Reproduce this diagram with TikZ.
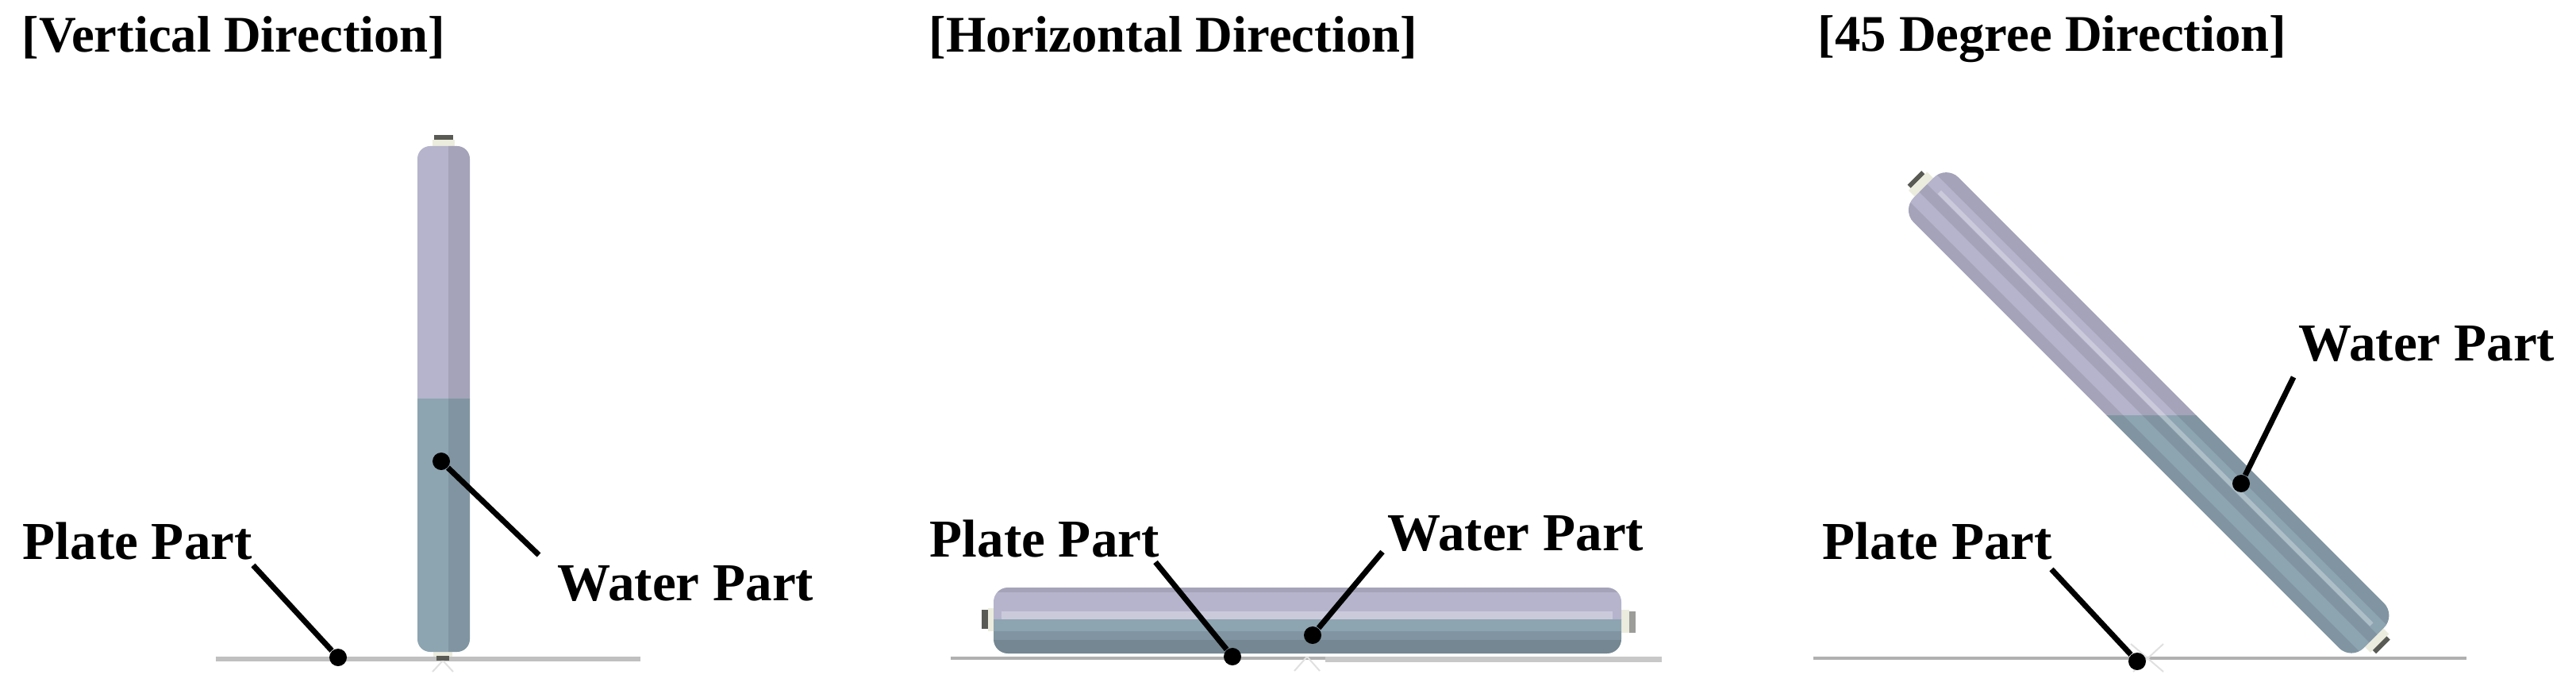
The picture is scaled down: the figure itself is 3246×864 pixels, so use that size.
\documentclass[tikz,border=0pt]{standalone}
\usepackage{fontspec}
\setmainfont{Liberation Serif}
\usepackage{tikz}
\usetikzlibrary{positioning,calc}
\definecolor{airfill}{RGB}{181,180,204}
\definecolor{waterfill}{RGB}{141,164,177}
\definecolor{platefill}{RGB}{176,176,176}
\definecolor{collarfill}{RGB}{236,236,222}
\definecolor{nubfill}{RGB}{90,90,85}

\begin{document}
\begin{tikzpicture}[
	x=0.01cm, y=-0.01cm,
	% Chu tieu de va nhan
	titlelabel/.style={anchor=base west, inner sep=0pt, font=\fontsize{18.4}{20}\selectfont\bfseries},
	partlabel/.style={anchor=base west, inner sep=0pt, font=\fontsize{19.1}{21}\selectfont\bfseries},
	% Duong chi va cham den
	leaderline/.style={draw=black, line width=0.07cm},
	leaderdot/.style={circle, fill=black, minimum size=0.22cm, inner sep=0pt},
	% Cac vung cua ong
	airpart/.style={fill=airfill},
	waterpart/.style={fill=waterfill},
	banddark/.style={fill=black, opacity=0.09},
	bandlight/.style={fill=white, opacity=0.3},
	collar/.style={fill=collarfill},
	nub/.style={fill=nubfill},
	plate/.style={draw=platefill, line width=0.045cm},
	crossmark/.style={draw=black!12, line width=0.02cm}
	]
	\useasboundingbox (0,0) rectangle (3246,864);

	% --- 1. VERTICAL ---
	\node[titlelabel] (titleV) at (27,66) {[Vertical Direction]};
	\draw[plate, draw=platefill!80, line width=0.06cm] (272,830) coordinate (plateVa) -- (807,830) coordinate (plateVb);
	\draw[crossmark] (558,832) -- (545,846) (558,832) -- (571,846);
	\fill[nub] (547,170) rectangle (571,176);
	\fill[collar] (545,176) rectangle (573,186);
	\fill[collar] (546,820) rectangle (570,827);
	\fill[nub] (550,826) rectangle (566,832);
	\begin{scope}
		\clip[rounded corners=0.16cm] (526,184) rectangle (592,821);
		\fill[airpart] (520,180) rectangle (600,503);
		\fill[waterpart] (520,502) rectangle (600,825);
		\fill[banddark] (565,180) rectangle (600,825);
	\end{scope}
	\node[partlabel] (plateV) at (28,704) {Plate Part};
	\node[partlabel] (waterV) at (702,756) {Water Part};
	\node[leaderdot] (dotPV) at (426,828) {};
	\node[leaderdot] (dotWV) at (556,581) {};
	\coordinate (startPV) at (319,712);
	\coordinate (startWV) at (679,699);
	\draw[leaderline] (startPV) -- (dotPV);
	\draw[leaderline] (startWV) -- (dotWV);

	% --- 2. HORIZONTAL ---
	\node[titlelabel] (titleH) at (1170,66) {[Horizontal Direction]};
	\draw[plate] (1198,829) coordinate (plateHa) -- (1670,829) coordinate (plateHm);
	\draw[plate, draw=platefill!70, line width=0.07cm] (plateHm) ++(0,1) -- (2094,830) coordinate (plateHb);
	\draw[crossmark] (1647,827) -- (1631,845) (1647,827) -- (1663,845);
	\fill[nub] (1237,768) rectangle (1245,792);
	\fill[collar] (1245,766) rectangle (1256,795);
	\fill[collar] (2038,768) rectangle (2053,797);
	\fill[nub, opacity=0.6] (2053,770) rectangle (2061,797);
	\begin{scope}
		\clip[rounded corners=0.18cm] (1252,740) rectangle (2043,823);
		\fill[airpart] (1240,735) rectangle (2050,781);
		\fill[waterpart] (1240,780) rectangle (2050,830);
		\fill[banddark] (1240,740) rectangle (2050,746);
		\fill[bandlight] (1262,770) rectangle (2032,780);
		\fill[banddark] (1240,795) rectangle (2050,830);
		\fill[banddark] (1240,806) rectangle (2050,830);
	\end{scope}
	\node[partlabel] (plateH) at (1171,701) {Plate Part};
	\node[partlabel] (waterH) at (1748,693) {Water Part};
	\node[leaderdot] (dotPH) at (1553,827) {};
	\node[leaderdot] (dotWH) at (1654,800) {};
	\coordinate (startPH) at (1456,708);
	\coordinate (startWH) at (1742,695);
	\draw[leaderline] (startPH) -- (dotPH);
	\draw[leaderline] (startWH) -- (dotWH);

	% --- 3. 45 DEGREE ---
	\node[titlelabel] (titleD) at (2290,65) {[45 Degree Direction]};
	\draw[plate] (2285,829) coordinate (plateDa) -- (3108,829) coordinate (plateDb);
	\draw[crossmark] (2685,811) -- (2726,846) (2726,811) -- (2688,846);
	\begin{scope}[tilt/.style={rotate around={-45:(2708,519.5)}}]
		\fill[nub, tilt] (2290,507) rectangle (2296,532);
		\fill[collar, tilt] (2296,503) rectangle (2310,536);
		\fill[collar, tilt] (3106,503) rectangle (3119,536);
		\fill[nub, tilt] (3119,507) rectangle (3125,532);
		\clip[tilt, rounded corners=0.22cm] (2307,480) rectangle (3109,560);
		\fill[airpart] (2300,150) rectangle (3100,524);
		\fill[waterpart] (2300,523) rectangle (3100,860);
		% Soc doc theo ong
		\fill[banddark, tilt] (2290,479) rectangle (3120,497);
		\fill[bandlight, tilt] (2325,507) rectangle (3095,513);
		\fill[banddark, tilt] (2290,514) rectangle (3120,528);
		\fill[banddark, tilt] (2290,545) rectangle (3120,561);
	\end{scope}
	\node[partlabel] (plateD) at (2296,704) {Plate Part};
	\node[partlabel] (waterD) at (2896,454) {Water Part};
	\node[leaderdot] (dotPD) at (2693,833) {};
	\node[leaderdot] (dotWD) at (2824,609) {};
	\coordinate (startPD) at (2585,717);
	\coordinate (startWD) at (2890,475);
	\draw[leaderline] (startPD) -- (dotPD);
	\draw[leaderline] (startWD) -- (dotWD);
\end{tikzpicture}
\end{document}
